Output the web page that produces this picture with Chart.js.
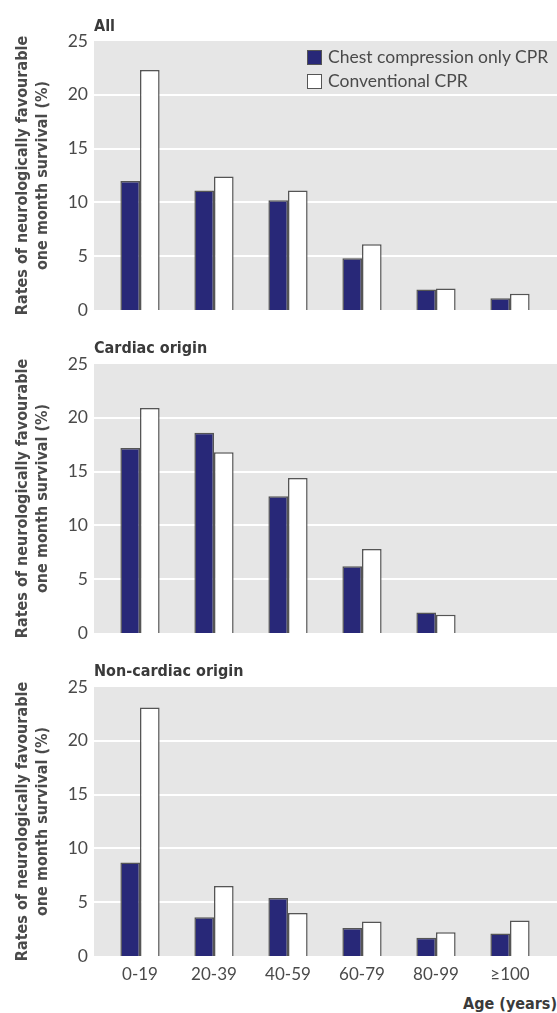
<!DOCTYPE html>
<html>
<head>
<meta charset="utf-8">
<script src="https://cdn.jsdelivr.net/npm/chart.js@4"></script>
<style>
  body { margin: 0; background: #fff; }
  #page { position: relative; width: 557px; height: 1013px; overflow: hidden; font-family: Lato, 'Open Sans', sans-serif; color: #4a4a4a; }
  .panel { position: absolute; left: 0; width: 557px; }
  .panel-title { position: absolute; left: 94px; font-family: 'Liberation Sans Narrow', 'DejaVu Sans Condensed', sans-serif; font-weight: bold; font-size: 16px; color: #3a3a3a; line-height: 20px; }
  .legend { position: absolute; left: 307px; top: 45px; font-size: 17.5px; line-height: 24px; }
  .legend-item { display: flex; align-items: center; }
  .swatch { width: 13px; height: 13px; border: 1.5px solid #555; margin-right: 6px; }
  #xTitle { position: absolute; right: 0; top: 994px; font-family: 'Liberation Sans Narrow', 'DejaVu Sans Condensed', sans-serif; font-weight: bold; font-size: 16px; color: #3a3a3a; }
</style>
</head>
<body>
<div id="page">
  <div class="panel" style="top:0;height:322px"><canvas id="allChart"></canvas></div>
  <div class="panel" style="top:318px;height:328px"><canvas id="cardiacChart"></canvas></div>
  <div class="panel" style="top:642px;height:348px"><canvas id="nonCardiacChart"></canvas></div>

  <div class="panel-title" style="top:16px">All</div>
  <div class="panel-title" style="top:338px">Cardiac origin</div>
  <div class="panel-title" style="top:661px">Non-cardiac origin</div>

  <div class="legend">
    <div class="legend-item"><span class="swatch" style="background:#282878"></span>Chest compression only CPR</div>
    <div class="legend-item"><span class="swatch" style="background:#fff"></span>Conventional CPR</div>
  </div>
  <div id="xTitle">Age (years)</div>
</div>

<script>
// Data
const ageGroups = ['0-19', '20-39', '40-59', '60-79', '80-99', '≥100'];
const yTicks = [0, 5, 10, 15, 20, 25];

const allChest = [12.0, 11.1, 10.2, 4.8, 1.9, 1.1];
const allConventional = [22.3, 12.4, 11.1, 6.1, 2.0, 1.5];

const cardiacChest = [17.2, 18.6, 12.7, 6.2, 1.9, null];
const cardiacConventional = [20.9, 16.8, 14.4, 7.8, 1.7, null];

const nonCardiacChest = [8.7, 3.6, 5.4, 2.6, 1.7, 2.1];
const nonCardiacConventional = [23.1, 6.5, 4.0, 3.2, 2.2, 3.3];

const NAVY = '#282878';
const EDGE = '#555555';
const TEXT = '#4a4a4a';

// grey panel + white grid lines, a bit wider than the chart area
const panelBackground = {
  id: 'panelBackground',
  beforeDraw(chart) {
    const { ctx, chartArea } = chart;
    const y = chart.scales.y;
    const left = chartArea.left - 9;
    const right = chart.width;
    ctx.save();
    ctx.fillStyle = '#e6e6e6';
    ctx.fillRect(left, chartArea.top, right - left, chartArea.bottom - chartArea.top);
    ctx.strokeStyle = '#ffffff';
    ctx.lineWidth = 2;
    yTicks.forEach(v => {
      if (v === yTicks[0] || v === yTicks[yTicks.length - 1]) return;
      const py = Math.round(y.getPixelForValue(v));
      ctx.beginPath();
      ctx.moveTo(left, py);
      ctx.lineTo(right, py);
      ctx.stroke();
    });
    ctx.restore();
  }
};

function makeChart(id, chestData, convData, padTop, padBottom, showX) {
  return new Chart(document.getElementById(id), {
    type: 'bar',
    data: {
      labels: ageGroups,
      datasets: [
        {
          label: 'Chest compression only CPR',
          data: chestData,
          backgroundColor: NAVY,
          borderColor: EDGE,
          borderWidth: 1.5,
        },
        {
          label: 'Conventional CPR',
          data: convData,
          backgroundColor: '#ffffff',
          borderColor: EDGE,
          borderWidth: 1.5,
        },
      ],
    },
    options: {
      responsive: true,
      maintainAspectRatio: false,
      animation: false,
      categoryPercentage: 0.53,
      barPercentage: 1,
      layout: { padding: { top: padTop, bottom: padBottom, left: 0, right: 10 } },
      plugins: {
        legend: { display: false },
        tooltip: { enabled: false },
      },
      scales: {
        x: {
          grid: { display: false, drawTicks: false },
          border: { display: false },
          ticks: {
            display: showX,
            color: TEXT,
            padding: 8,
            font: { family: 'Lato', size: 17 },
          },
          afterFit(scale) { scale.height = showX ? 25 : 0; },
        },
        y: {
          min: 0,
          max: 25,
          grid: { display: false, drawTicks: false },
          border: { display: false },
          afterBuildTicks(scale) { scale.ticks = yTicks.map(v => ({ value: v })); },
          ticks: {
            color: TEXT,
            padding: 15,
            font: { family: 'Lato', size: 17.5 },
          },
          title: {
            display: true,
            text: ['Rates of neurologically favourable', 'one month survival (%)'],
            color: TEXT,
            padding: { top: 12, bottom: 0 },
            font: { family: "'Liberation Sans Narrow', 'DejaVu Sans Condensed', sans-serif", size: 16, weight: 'bold', lineHeight: 1.3 },
          },
          afterFit(scale) {
            scale.width = 103;
            scale.paddingTop = 0;
            scale.paddingBottom = 0;
          },
        },
      },
    },
    plugins: [panelBackground],
  });
}

makeChart('allChart', allChest, allConventional, 41, 12, false);
makeChart('cardiacChart', cardiacChest, cardiacConventional, 46, 13, false);
makeChart('nonCardiacChart', nonCardiacChest, nonCardiacConventional, 45, 9, true);
</script>
</body>
</html>
